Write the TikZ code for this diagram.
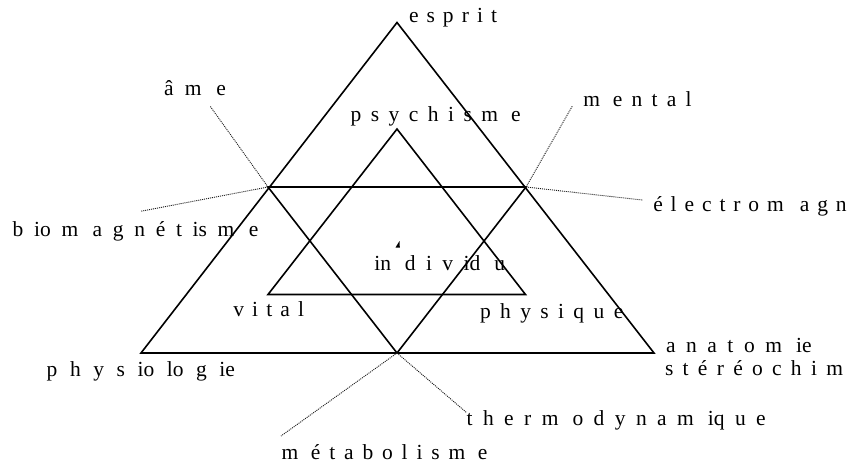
\documentclass[tikz,border=0pt]{standalone}
\usepackage{fontspec}
\setmainfont{Liberation Serif}
\newcommand{\sprd}[2]{\makebox[#1pt][s]{#2}}
\newcommand{\gapE}{\hspace{7.9pt}}
\newcommand{\gapEE}{\hspace{16pt}}
\newcommand{\gapS}{\hspace{9.3pt}}
\newcommand{\gapSS}{\hspace{18pt}}
\tikzset{
  tri/.style={line width=1.6pt, line join=miter},
  lead/.style={dash pattern=on 1pt off 1pt, line width=0.9pt, black!90},
  lab/.style={anchor=base west, inner sep=0pt, outer sep=0pt, font=\fontsize{21.5}{24}\selectfont},
}
\begin{document}
\begin{tikzpicture}[x=1pt,y=-1pt]
\useasboundingbox[fill=white] (0,0) rectangle (848,463);
% big triangle
\coordinate (T) at (397,22.5);
\coordinate (BL) at (141,353);
\coordinate (BR) at (654,353);
% inverted triangle
\coordinate (IL) at (268,187);
\coordinate (IR) at (526,187);
\coordinate (IB) at (397,353);
% small triangle
\coordinate (ST) at (397,129);
\coordinate (SL) at (268,294.5);
\coordinate (SR) at (525.5,294.5);
\draw[tri] (T) -- (BR) -- (BL) -- cycle;
\draw[tri] (IL) -- (IR) -- (IB) -- cycle;
\draw[tri] (ST) -- (SR) -- (SL) -- cycle;
% leader ends
\coordinate (eAme) at (210,106);
\coordinate (eBio) at (140.7,211.3);
\coordinate (eMen) at (572.3,106);
\coordinate (eEle) at (642.3,200);
\coordinate (eMet) at (281,436);
\coordinate (eThe) at (466.7,412.7);
\draw[lead] (IL) -- (eAme);
\draw[lead] (IL) -- (eBio);
\draw[lead] (IR) -- (eMen);
\draw[lead] (IR) -- (eEle);
\draw[lead] (IB) -- (eMet);
\draw[lead] (IB) -- (eThe);
% tiny mark
\fill (395.5,247.5) -- (399.8,247.5) -- (399.5,241) -- cycle;
% labels
\node[lab] (esprit) at (409,22.7) {\sprd{88}{e s p r i t}};
\node[lab] (ame) at (164,95) {\sprd{62}{â m \,e}};
\node[lab] (psy) at (350.7,121) {\sprd{170}{p s y c h i s m \,e}};
\node[lab] (mental) at (583.3,106) {\sprd{108.4}{m \,e n t a l}};
\node[lab] (bio) at (12.7,236.7) {\sprd{245.6}{b io m \,a g n é t is m \,e}};
\node[lab] (ele) at (653.3,211) {é\gapE l\gapE e\gapE c\gapE t\gapE r\gapE o\gapE m\gapEE a\gapE g\gapE n\gapE é\gapE t\gapE i\gapE s\gapE m\gapEE e};
\node[lab] (indiv) at (374.3,270) {\sprd{130.7}{in \,d i v id \,u}};
\node[lab] (vital) at (233.3,316.7) {\sprd{70.7}{v i t a l}};
\node[lab] (phys) at (480,318) {\sprd{143.3}{p h y s i q u e}};
\node[lab] (physio) at (46.7,376.7) {\sprd{188.3}{p h y s io lo g ie}};
\node[lab] (anat) at (666,352.7) {\sprd{145.7}{a n a t o m \,ie}};
\node[lab] (stereo) at (665,375) {s\gapS t\gapS é\gapS r\gapS é\gapS o\gapS c\gapS h\gapS i\gapS m\gapSS ie};
\node[lab] (thermo) at (466.7,425) {\sprd{299}{t h e r m \,o d y n a m \,iq u e}};
\node[lab] (metab) at (281.7,459) {\sprd{205.6}{m \,é t a b o l i s m \,e}};
\end{tikzpicture}
\end{document}
